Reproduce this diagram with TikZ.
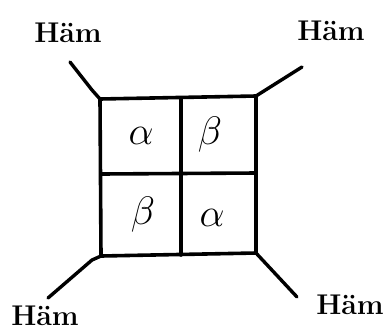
\documentclass[tikz,border=0pt]{standalone}
\usepackage{amsmath}
\usetikzlibrary{positioning,calc}

\begin{document}
\begin{tikzpicture}[
  x=1pt, y=-1pt,
  wall/.style={line width=3.6pt, line cap=round, line join=round, color=black},
  arm/.style={line width=3.4pt, line cap=round, line join=round, color=black},
  chain/.style={inner sep=0pt, font=\LARGE, scale=2.3},
  haem/.style={inner sep=0pt, font=\bfseries\LARGE, scale=1.65}
]
  \useasboundingbox (0,0) rectangle (390,333);

  % Corners of the tetramer
  \coordinate (tl) at (100,99);
  \coordinate (tr) at (256,96);
  \coordinate (bl) at (101,256);
  \coordinate (br) at (256,253);
  \coordinate (tm) at (181,98);
  \coordinate (bm) at (181,255);
  \coordinate (ml) at (101,174);
  \coordinate (mr) at (256,173);

  % Box and dividers
  \draw[wall] (tl) -- (tr) -- (br) -- (bl) -- cycle;
  \draw[wall] (tm) -- (bm);
  \draw[wall] (ml) -- (mr);

  % Subunits
  \node[chain] (a1) at (141,136) {$\alpha$};
  \node[chain] (b1) at (210,135) {$\beta$};
  \node[chain] (b2) at (143,215) {$\beta$};
  \node[chain] (a2) at (212,218) {$\alpha$};

  % Haem groups
  \node[haem] (h1) at (68,33) {Häm};
  \node[haem] (h2) at (331,31) {Häm};
  \node[haem] (h3) at (45,316) {Häm};
  \node[haem] (h4) at (350,305) {Häm};

  \coordinate (e1) at (70,62);
  \coordinate (e2) at (302,67);
  \coordinate (e3) at (48,298);
  \coordinate (e4) at (297,297);

  \draw[arm] (tl) -- (92,90) -- (e1);
  \draw[arm] (tr) -- (e2);
  \draw[arm] (bl) -- (92,260) -- (e3);
  \draw[arm] (br) -- (e4);
\end{tikzpicture}
\end{document}
